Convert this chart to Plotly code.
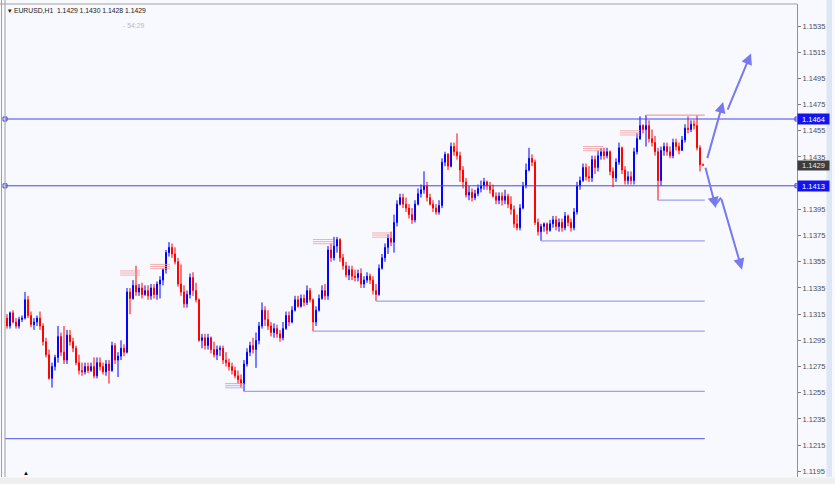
import plotly.graph_objects as go

# ---------------- data (EURUSD H1) ----------------
opens = [
 1.1312,1.1306,1.1316,1.1309,1.1306,1.1311,1.1312,1.1326,1.1314,1.1307,
 1.1309,1.1312,1.1306,1.1294,1.1284,1.1266,1.1275,1.1282,1.1298,1.1286,
 1.1280,1.1299,1.1294,1.1289,1.1278,1.1272,1.1271,1.1275,1.1272,1.1275,
 1.1268,1.1278,1.1275,1.1271,1.1277,1.1272,1.1291,1.1280,1.1283,1.1289,
 1.1286,1.1332,1.1327,1.1337,1.1332,1.1335,1.1330,1.1333,1.1329,1.1335,
 1.1330,1.1338,1.1341,1.1349,1.1362,1.1366,1.1361,1.1355,1.1338,1.1332,
 1.1323,1.1330,1.1343,1.1333,1.1326,1.1295,1.1297,1.1291,1.1297,1.1288,
 1.1284,1.1288,1.1289,1.1280,1.1278,1.1275,1.1272,1.1268,1.1265,1.1262,
 1.1277,1.1286,1.1291,1.1288,1.1295,1.1306,1.1318,1.1311,1.1306,1.1301,
 1.1304,1.1300,1.1297,1.1304,1.1314,1.1309,1.1318,1.1326,1.1321,1.1327,
 1.1324,1.1333,1.1326,1.1309,1.1318,1.1327,1.1333,1.1329,1.1364,1.1358,
 1.1367,1.1372,1.1358,1.1352,1.1345,1.1349,1.1344,1.1343,1.1346,1.1338,
 1.1341,1.1344,1.1341,1.1333,1.1330,1.1350,1.1358,1.1366,1.1373,1.1370,
 1.1385,1.1399,1.1404,1.1399,1.1396,1.1391,1.1387,1.1399,1.1407,1.1410,
 1.1413,1.1404,1.1399,1.1396,1.1393,1.1398,1.1431,1.1437,1.1428,1.1443,
 1.1439,1.1436,1.1425,1.1416,1.1406,1.1408,1.1404,1.1407,1.1411,1.1413,
 1.1416,1.1413,1.1410,1.1405,1.1402,1.1405,1.1402,1.1405,1.1399,1.1395,
 1.1384,1.1381,1.1396,1.1413,1.1425,1.1434,1.1431,1.1385,1.1378,1.1382,
 1.1384,1.1379,1.1384,1.1387,1.1382,1.1385,1.1381,1.1390,1.1385,1.1381,
 1.1393,1.1413,1.1417,1.1427,1.1420,1.1419,1.1433,1.1427,1.1436,1.1439,
 1.1436,1.1439,1.1424,1.1419,1.1431,1.1442,1.1425,1.1417,1.1420,1.1417,
 1.1439,1.1449,1.1459,1.1456,1.1459,1.1449,1.1446,1.1439,1.1417,1.1440,
 1.1443,1.1439,1.1436,1.1446,1.1443,1.1440,1.1448,1.1457,1.1456,1.1460,
 1.1459,1.1442,1.1429]
highs = [
 1.1315,1.1317,1.1318,1.1312,1.1313,1.1314,1.1332,1.1329,1.1317,1.1312,
 1.1314,1.1317,1.1308,1.1297,1.1288,1.1278,1.1284,1.1306,1.1301,1.1306,
 1.1303,1.1303,1.1297,1.1291,1.1284,1.1278,1.1278,1.1278,1.1278,1.1282,
 1.1282,1.1282,1.1278,1.1280,1.1280,1.1294,1.1293,1.1286,1.1295,1.1292,
 1.1335,1.1335,1.1341,1.1352,1.1338,1.1339,1.1337,1.1337,1.1338,1.1338,
 1.1340,1.1344,1.1350,1.1364,1.1370,1.1369,1.1366,1.1358,1.1353,1.1337,
 1.1333,1.1346,1.1347,1.1339,1.1327,1.1300,1.1300,1.1300,1.1298,1.1294,
 1.1291,1.1291,1.1291,1.1286,1.1281,1.1278,1.1275,1.1272,1.1269,1.1280,
 1.1289,1.1294,1.1297,1.1301,1.1309,1.1324,1.1321,1.1318,1.1309,1.1308,
 1.1307,1.1303,1.1309,1.1317,1.1317,1.1321,1.1329,1.1329,1.1330,1.1330,
 1.1337,1.1335,1.1327,1.1321,1.1330,1.1337,1.1338,1.1367,1.1369,1.1374,
 1.1374,1.1373,1.1361,1.1355,1.1352,1.1352,1.1349,1.1349,1.1350,1.1344,
 1.1347,1.1346,1.1344,1.1338,1.1353,1.1361,1.1369,1.1376,1.1378,1.1391,
 1.1402,1.1407,1.1407,1.1404,1.1399,1.1396,1.1402,1.1411,1.1414,1.1424,
 1.1416,1.1407,1.1402,1.1399,1.1402,1.1434,1.1439,1.1438,1.1446,1.1446,
 1.1453,1.1439,1.1428,1.1419,1.1413,1.1411,1.1410,1.1414,1.1417,1.1419,
 1.1417,1.1416,1.1414,1.1408,1.1408,1.1408,1.1410,1.1407,1.1405,1.1398,
 1.1391,1.1399,1.1416,1.1430,1.1442,1.1437,1.1433,1.1388,1.1384,1.1385,
 1.1385,1.1387,1.1390,1.1390,1.1388,1.1388,1.1393,1.1391,1.1388,1.1396,
 1.1416,1.1420,1.1430,1.1430,1.1428,1.1436,1.1436,1.1440,1.1442,1.1442,
 1.1442,1.1440,1.1427,1.1434,1.1446,1.1443,1.1428,1.1424,1.1424,1.1442,
 1.1453,1.1466,1.1460,1.1467,1.1463,1.1456,1.1451,1.1442,1.1443,1.1446,
 1.1446,1.1443,1.1449,1.1449,1.1446,1.1451,1.1460,1.1466,1.1463,1.1463,
 1.1467,1.1444,1.1430]
lows = [
 1.1304,1.1304,1.1308,1.1304,1.1304,1.1309,1.1311,1.1312,1.1305,1.1303,
 1.1306,1.1303,1.1291,1.1282,1.1265,1.1259,1.1272,1.1278,1.1283,1.1277,
 1.1277,1.1291,1.1286,1.1276,1.1269,1.1268,1.1269,1.1270,1.1271,1.1266,
 1.1266,1.1272,1.1269,1.1268,1.1262,1.1271,1.1277,1.1267,1.1280,1.1283,
 1.1285,1.1315,1.1326,1.1329,1.1329,1.1327,1.1329,1.1326,1.1326,1.1327,
 1.1326,1.1327,1.1337,1.1346,1.1359,1.1358,1.1353,1.1336,1.1329,1.1320,
 1.1320,1.1327,1.1329,1.1324,1.1294,1.1289,1.1288,1.1288,1.1285,1.1282,
 1.1280,1.1283,1.1277,1.1275,1.1272,1.1269,1.1266,1.1262,1.1259,1.1256,
 1.1275,1.1283,1.1285,1.1274,1.1292,1.1304,1.1306,1.1303,1.1298,1.1297,
 1.1297,1.1294,1.1295,1.1303,1.1306,1.1308,1.1317,1.1320,1.1320,1.1321,
 1.1322,1.1324,1.1302,1.1306,1.1317,1.1326,1.1326,1.1326,1.1355,1.1356,
 1.1362,1.1355,1.1349,1.1343,1.1341,1.1341,1.1340,1.1340,1.1335,1.1335,
 1.1339,1.1338,1.1330,1.1325,1.1329,1.1349,1.1355,1.1361,1.1367,1.1362,
 1.1382,1.1398,1.1396,1.1393,1.1388,1.1384,1.1385,1.1398,1.1404,1.1407,
 1.1401,1.1398,1.1393,1.1391,1.1391,1.1396,1.1428,1.1425,1.1427,1.1436,
 1.1433,1.1416,1.1411,1.1404,1.1402,1.1401,1.1402,1.1405,1.1408,1.1410,
 1.1410,1.1407,1.1404,1.1399,1.1399,1.1398,1.1399,1.1396,1.1391,1.1381,
 1.1379,1.1379,1.1395,1.1411,1.1424,1.1428,1.1383,1.1375,1.1371,1.1378,
 1.1376,1.1378,1.1381,1.1379,1.1378,1.1378,1.1379,1.1382,1.1378,1.1379,
 1.1391,1.1410,1.1416,1.1417,1.1416,1.1416,1.1422,1.1424,1.1433,1.1433,
 1.1434,1.1421,1.1412,1.1416,1.1429,1.1422,1.1414,1.1414,1.1414,1.1414,
 1.1437,1.1448,1.1453,1.1443,1.1446,1.1443,1.1436,1.1402,1.1413,1.1436,
 1.1436,1.1434,1.1434,1.1440,1.1437,1.1440,1.1446,1.1453,1.1454,1.1456,
 1.1440,1.1424,1.1428]
closes = [
 1.1306,1.1316,1.1309,1.1306,1.1311,1.1312,1.1326,1.1314,1.1307,1.1309,
 1.1312,1.1306,1.1294,1.1284,1.1266,1.1275,1.1282,1.1298,1.1286,1.1280,
 1.1299,1.1294,1.1289,1.1278,1.1272,1.1271,1.1275,1.1272,1.1275,1.1268,
 1.1278,1.1275,1.1271,1.1277,1.1272,1.1291,1.1280,1.1283,1.1289,1.1286,
 1.1332,1.1327,1.1337,1.1332,1.1335,1.1330,1.1333,1.1329,1.1335,1.1330,
 1.1338,1.1341,1.1349,1.1362,1.1366,1.1361,1.1355,1.1338,1.1332,1.1323,
 1.1330,1.1343,1.1333,1.1326,1.1295,1.1297,1.1291,1.1297,1.1288,1.1284,
 1.1288,1.1289,1.1280,1.1278,1.1275,1.1272,1.1268,1.1265,1.1262,1.1277,
 1.1286,1.1291,1.1288,1.1295,1.1306,1.1318,1.1311,1.1306,1.1301,1.1304,
 1.1300,1.1297,1.1304,1.1314,1.1309,1.1318,1.1326,1.1321,1.1327,1.1324,
 1.1333,1.1326,1.1309,1.1318,1.1327,1.1333,1.1329,1.1364,1.1358,1.1367,
 1.1372,1.1358,1.1352,1.1345,1.1349,1.1344,1.1343,1.1346,1.1338,1.1341,
 1.1344,1.1341,1.1333,1.1330,1.1350,1.1358,1.1366,1.1373,1.1370,1.1385,
 1.1399,1.1404,1.1399,1.1396,1.1391,1.1387,1.1399,1.1407,1.1410,1.1413,
 1.1404,1.1399,1.1396,1.1393,1.1398,1.1431,1.1437,1.1428,1.1443,1.1439,
 1.1436,1.1425,1.1416,1.1406,1.1408,1.1404,1.1407,1.1411,1.1413,1.1416,
 1.1413,1.1410,1.1405,1.1402,1.1405,1.1402,1.1405,1.1399,1.1395,1.1384,
 1.1381,1.1396,1.1413,1.1425,1.1434,1.1431,1.1385,1.1378,1.1382,1.1384,
 1.1379,1.1384,1.1387,1.1382,1.1385,1.1381,1.1390,1.1385,1.1381,1.1393,
 1.1413,1.1417,1.1427,1.1420,1.1419,1.1433,1.1427,1.1436,1.1439,1.1436,
 1.1439,1.1424,1.1419,1.1431,1.1442,1.1425,1.1417,1.1420,1.1417,1.1439,
 1.1449,1.1459,1.1456,1.1459,1.1449,1.1446,1.1439,1.1417,1.1440,1.1443,
 1.1439,1.1436,1.1446,1.1443,1.1440,1.1448,1.1457,1.1456,1.1460,1.1459,
 1.1442,1.1429,1.1429]

# horizontal levels (price) and analysis objects
full_levels = [1.1464, 1.1413]
far_level = 1.1220
low_level_start = [79, 102, 123, 178, 217]
low_level_price = [1.1256, 1.1302, 1.1325, 1.1371, 1.1402]
high_level_start = [213]
high_level_price = [1.1467]
hash_start = [37.7, 47.7, 102.0, 121.7, 192.0, 204.3]
hash_end = [44.3, 54.3, 108.7, 127.7, 198.7, 211.0]
hash_price = [1.1348, 1.1353, 1.1372, 1.1377, 1.1443, 1.1455]
bhash_start = [72.7]
bhash_end = [79.0]
bhash_price = [1.1262]
# forecast arrows: tail (x,y) -> head (x,y) in bar index / price
arrow_tail_x = [233.3, 240.0, 232.7, 238.0]
arrow_tail_y = [1.1433, 1.1470, 1.1428, 1.1404]
arrow_head_x = [238.7, 248.0, 236.3, 245.0]
arrow_head_y = [1.1477, 1.1514, 1.1396, 1.1349]
link_x = [236.3, 238.0]
link_y = [1.1399, 1.1404]

tick_vals = [round(1.1195 + 0.002 * k, 4) for k in range(18)]
hidden_ticks = [1.1415]  # covered by the level label in the reference
tick_text = ["" if v in hidden_ticks else f"{v:.4f}" for v in tick_vals]

n = len(closes)
assert len(opens) == n and len(highs) == n and len(lows) == n
idx = list(range(n))

X0, X1 = -0.67, 263.33
Y0, Y1 = 1.11907, 1.15518
line_end = n - 0.4

fig = go.Figure()
fig.add_trace(go.Candlestick(
    x=idx, open=opens, high=highs, low=lows, close=closes,
    increasing=dict(line=dict(color="#0000FF", width=1), fillcolor="#0000FF"),
    decreasing=dict(line=dict(color="#FF0000", width=1), fillcolor="#FF0000"),
    whiskerwidth=0, hoverinfo="skip"))

shapes = []
for p in full_levels:
    shapes.append(dict(type="line", xref="x", yref="y", x0=X0, x1=X1, y0=p, y1=p,
                       line=dict(color="#4646E6", width=1)))
shapes.append(dict(type="line", xref="x", yref="y", x0=X0, x1=line_end, y0=far_level, y1=far_level,
                   line=dict(color="#7272EE", width=1.2)))
for s, p in zip(low_level_start, low_level_price):
    shapes.append(dict(type="line", xref="x", yref="y", x0=s, x1=line_end, y0=p, y1=p,
                       line=dict(color="#A0A0F2", width=1.3)))
for s, p in zip(high_level_start, high_level_price):
    shapes.append(dict(type="line", xref="x", yref="y", x0=s, x1=line_end, y0=p, y1=p,
                       line=dict(color="#F2A0A0", width=1.3)))
for s, e, p in zip(hash_start, hash_end, hash_price):
    for k in range(3):
        q = p - k * 0.00016
        shapes.append(dict(type="line", xref="x", yref="y", x0=s, x1=e, y0=q, y1=q,
                           line=dict(color="#F29A9A", width=0.8)))
for s, e, p in zip(bhash_start, bhash_end, bhash_price):
    for k in range(3):
        q = p - k * 0.00016
        shapes.append(dict(type="line", xref="x", yref="y", x0=s, x1=e, y0=q, y1=q,
                           line=dict(color="#A0A0F2", width=0.8)))
shapes.append(dict(type="line", xref="x", yref="y", x0=link_x[0], x1=link_x[1], y0=link_y[0], y1=link_y[1],
                   line=dict(color="#7878F0", width=2)))

# frame decorations (paper coords)
PW, PH = 792.0, 473.0
def px(xp):
    return (xp - 5) / PW
def py(yp):
    return 1 - (yp - 4) / PH
shapes += [
    dict(type="line", xref="paper", yref="paper", x0=px(0), x1=1, y0=1, y1=1, line=dict(color="#A0A0A0", width=1)),
    dict(type="line", xref="paper", yref="paper", x0=0, x1=0, y0=0, y1=py(0), line=dict(color="#A0A0A0", width=1)),
    dict(type="line", xref="paper", yref="paper", x0=px(1.5), x1=px(1.5), y0=0, y1=py(0), line=dict(color="#A0A0A0", width=1)),
    dict(type="rect", xref="paper", yref="paper", x0=px(826.5), x1=px(832), y0=0, y1=py(0),
         line=dict(width=0), fillcolor="#DDE6F3"),
    dict(type="rect", xref="paper", yref="paper", x0=px(-1), x1=px(840), y0=py(484), y1=py(477.5),
         line=dict(width=0), fillcolor="#EFEFEF"),
]

annotations = []
for tx, ty, hx, hy in zip(arrow_tail_x, arrow_tail_y, arrow_head_x, arrow_head_y):
    annotations.append(dict(x=hx, y=hy, xref="x", yref="y", ax=tx, ay=ty, axref="x", ayref="y",
                            text="", showarrow=True, arrowhead=2, arrowsize=1.1, arrowwidth=2,
                            arrowcolor="#7878F0"))
for p in full_levels:
    annotations.append(dict(x=1, y=p, xref="paper", yref="y", xanchor="left", yanchor="middle",
                            xshift=0, text=f"{p:.4f}", showarrow=False, bgcolor="#1414F0",
                            font=dict(color="white", size=7.5, family="Liberation Sans"), borderpad=0,
                            width=31, height=10, align="center", valign="middle"))
annotations.append(dict(x=1, y=closes[-1], xref="paper", yref="y", xanchor="left", yanchor="middle",
                        text=f"{closes[-1]:.4f}", showarrow=False, bgcolor="#3C3C3C",
                        font=dict(color="#E8E8E8", size=7.5, family="Liberation Sans"), borderpad=0,
                        width=31, height=9, align="center", valign="middle", yshift=-1))
annotations.append(dict(x=px(6), y=py(10), xref="paper", yref="paper", xanchor="left", yanchor="middle",
                        text=f"▾ EURUSD,H1  {opens[-1]:.4f} {highs[-1]:.4f} {lows[-1]:.4f} {closes[-1]:.4f}",
                        showarrow=False, font=dict(color="#202020", size=6.8, family="Liberation Sans")))
annotations.append(dict(x=px(121), y=py(26), xref="paper", yref="paper", xanchor="left", yanchor="middle",
                        text="- 54:29", showarrow=False,
                        font=dict(color="#BBBBBB", size=6.8, family="Liberation Sans")))
annotations.append(dict(x=px(26), y=py(473), xref="paper", yref="paper", xanchor="center", yanchor="middle",
                        text="▲", showarrow=False, font=dict(color="#000000", size=6)))

fig.add_trace(go.Scatter(
    x=[X0, X1, X0, X1], y=[full_levels[0], full_levels[0], full_levels[1], full_levels[1]],
    mode="markers", marker=dict(symbol="square-open", size=4, color="#3C3CE6", line=dict(width=1)),
    cliponaxis=False, hoverinfo="skip"))

fig.update_layout(
    width=835, height=484,
    margin=dict(l=5, r=38, t=4, b=7),
    paper_bgcolor="#F8F8FF", plot_bgcolor="#F8F8FF",
    showlegend=False, boxgap=0.55,
    shapes=shapes, annotations=annotations,
    xaxis=dict(range=[X0, X1], rangeslider=dict(visible=False), showticklabels=False,
               showgrid=False, zeroline=False, showline=False, ticks=""),
    yaxis=dict(range=[Y0, Y1], side="right", tickvals=tick_vals, ticktext=tick_text,
               ticks="outside", ticklen=3, tickcolor="#808080", showline=True, linecolor="#909090",
               linewidth=1, showgrid=False, zeroline=False,
               tickfont=dict(size=7.5, color="#505050", family="Liberation Sans")),
)

fig.write_html("out.html", config={"displayModeBar": False},
               post_script="document.body.style.margin='0';document.body.style.overflow='hidden';")
